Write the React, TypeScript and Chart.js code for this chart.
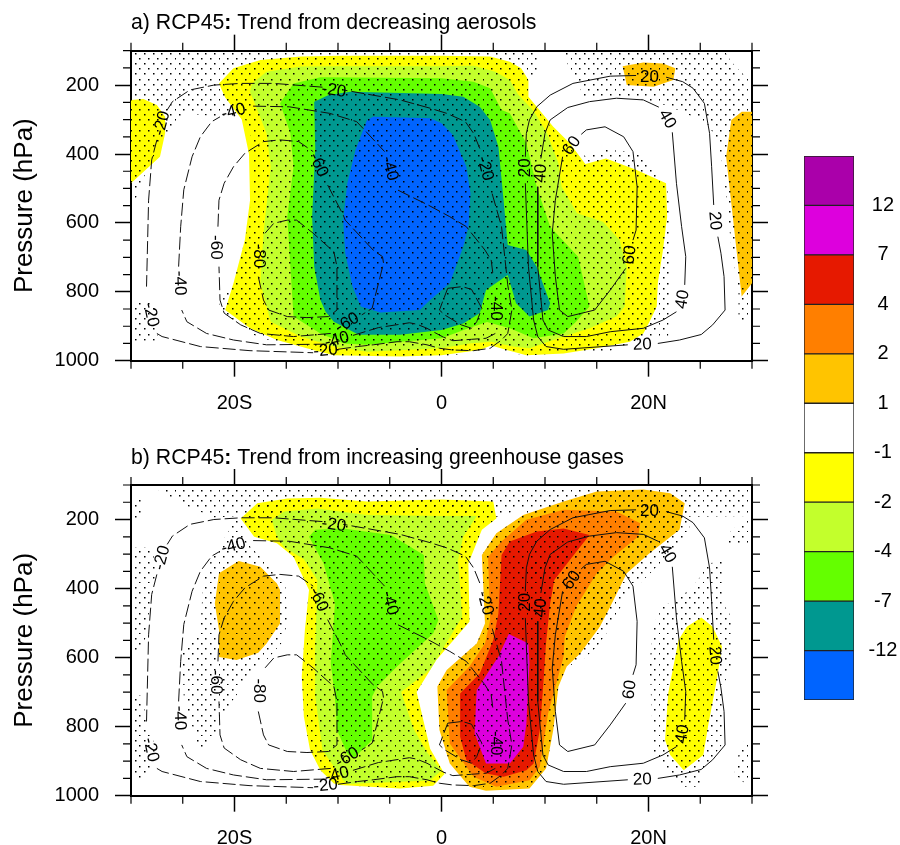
import React, { useEffect, useRef } from "react";
import { Chart, registerables } from "chart.js";

Chart.register(...registerables);

type Pt = [number, number];

const FONT = "'Liberation Sans', Arial, sans-serif";

// Axis values
const majorLats = [-20, 0, 20];
const latLabels: Record<string, string> = { "-20": "20S", "0": "0", "20": "20N" };
const minorLats = [-30, -25, -15, -10, -5, 5, 10, 15, 25, 30];
const majorPressures = [200, 400, 600, 800, 1000];
const minorPressures = [100, 150, 250, 300, 350, 450, 500, 550, 650, 700, 750, 850, 900, 950];

// Colour bar
const levelColors = ["#0064FF", "#009890", "#64FF00", "#C3FF2C", "#FFFF00", "#FFFFFF", "#FFC400", "#FF7F00", "#E61900", "#DD00DD", "#AA00AA"];
const levelLabels = ["-12", "-7", "-4", "-2", "-1", "1", "2", "4", "7", "12"];

// Panel a filled trend regions
const aYellow: Pt[] = [[-21.5,195],[-20.1,151],[-17.5,127],[-13.6,117],[-9.8,115],[0,115],[4.7,117],[6.6,132],[7.7,151],[8.4,185],[8.4,234],[9.2,263],[10.8,321],[12.4,369],[13.9,429],[15.9,413],[18.8,446],[21.7,485],[21.8,582],[21.4,679],[20.9,775],[20.8,843],[20.1,887],[19.5,921],[18.2,945],[15,964],[11.8,979],[8.2,984],[6.3,969],[4.8,956],[3.7,969],[0,984],[-4,988],[-10.4,984],[-12.4,969],[-15.9,940],[-18.5,906],[-20.9,853],[-20.1,775],[-19,650],[-18.5,534],[-18.6,400],[-19.3,300],[-20.9,236]];
const aLime: Pt[] = [[-18.5,219],[-18.3,195],[-16.9,161],[-13.6,146],[-9.8,145],[0,145],[3.1,144],[5.2,161],[6.6,185],[7.4,227],[8.9,275],[10.2,340],[11.3,427],[11.6,495],[13.1,572],[15.6,597],[17.2,650],[17.9,727],[17.7,843],[16.9,872],[14.3,906],[11.8,930],[8.5,964],[6.9,959],[4.8,945],[2.7,950],[0,964],[-7.2,974],[-10.4,959],[-13.6,930],[-16.5,887],[-17.5,775],[-17.2,630],[-16.5,437],[-16.9,340],[-17.8,272]];
const aGreen: Pt[] = [[-15.6,253],[-14.3,195],[-11.7,177],[0,180],[3.1,190],[4.7,209],[5.8,272],[6.6,282],[8.2,369],[9.2,495],[10.5,611],[13.2,698],[14.3,843],[13,887],[11.8,921],[8.9,935],[6.6,906],[4.4,888],[2.4,908],[0,935],[-7.2,954],[-9.4,950],[-11.7,921],[-14.3,872],[-14.6,727],[-14.9,582],[-14.3,437],[-14.6,340]];
const aTeal: Pt[] = [[-12.3,248],[-10.9,229],[-8.8,219],[0,226],[2.1,234],[3.7,263],[4.7,301],[5.5,379],[6,534],[6.4,664],[8.2,679],[9.2,727],[10.5,833],[10.3,853],[8.5,872],[7.2,833],[6.4,751],[4.3,795],[3.7,862],[2.1,892],[0,911],[-4,925],[-8,925],[-10.4,887],[-11.2,858],[-11.7,824],[-12.3,727],[-12.5,582],[-12.2,388]];
const aBlue: Pt[] = [[-7.2,301],[-6.6,292],[-1.1,296],[0,311],[1.1,345],[2.4,437],[2.8,514],[2.6,611],[2.1,669],[0.8,775],[-1.1,824],[-2.1,853],[-5.9,860],[-7.8,843],[-8.6,785],[-9.3,688],[-9.5,592],[-9.1,485],[-8.3,388]];
const aLeftYellow: Pt[] = [[-30,243],[-28.8,240],[-27.5,258],[-26.7,292],[-26.7,340],[-27.2,408],[-30,485]];
const aTopGold: Pt[] = [[17.5,145],[19.5,134],[21.4,137],[22.6,151],[22.4,185],[20.5,205],[17.9,200]];
const aRightGold: Pt[] = [[28,301],[29,277],[30,277],[30,775],[29,814],[27.5,408]];

// Panel a significance regions
const aStipMain: Pt[] = [[-30,100],[9.2,100],[9.3,180],[8.5,185],[8.5,243],[9.5,282],[11.1,340],[12.4,379],[14,408],[15.9,388],[18.2,393],[19.5,408],[21.4,466],[22.1,534],[22.1,727],[21.9,930],[19.8,930],[18.2,950],[16.3,971],[11.8,977],[8.2,986],[6.3,974],[4.8,959],[3.7,974],[0,988],[-10.4,986],[-12.4,969],[-15.9,945],[-17.8,932],[-21.7,848],[-21.2,824],[-20.1,775],[-19,650],[-18.3,534],[-18.3,359],[-19.1,287],[-21.7,292],[-24.6,282],[-26.2,330],[-27.5,388],[-28.6,456],[-29.7,543],[-30,543]];
const aStipLow: Pt[] = [[-29.9,824],[-27.5,824],[-27.5,921],[-27.2,942],[-29.9,942]];
const aStipRight: Pt[] = [[11.6,103],[27.4,103],[28,132],[30,195],[30,882],[28.7,887],[28.7,805],[28,669],[27.2,437],[26.6,359],[25.8,316],[23.3,277],[21.1,253],[18.8,238],[13.8,234],[13,190],[11.8,117]];

// Panel b filled trend regions
const bYellow: Pt[] = [[-19.4,197],[-17.8,153],[-14.9,139],[-11.7,137],[-7.2,148],[0,142],[5,148],[5.3,197],[3.9,230],[2.6,327],[2.7,496],[-0.5,607],[-2.4,700],[-1.1,864],[0.3,937],[-0.8,971],[-4,979],[-9.8,969],[-10.4,965],[-11.7,926],[-12.7,868],[-13.3,771],[-13.5,655],[-13.2,520],[-12.8,404],[-14.3,308],[-15.9,269],[-18.1,250]];
const bLime: Pt[] = [[-16.4,201],[-15.2,177],[-12,168],[-7.2,187],[0,190],[3.4,190],[2.1,250],[1.6,317],[2,482],[-1.1,635],[-3.9,700],[-2.7,806],[-1.4,874],[0,927],[-1.1,956],[-9,966],[-9.5,955],[-11.5,868],[-12.2,713],[-12.2,569],[-12,375],[-13.3,315],[-15.2,280],[-15.9,250]];
const bGreen: Pt[] = [[-12.8,250],[-12.2,230],[-9.5,226],[-4.9,245],[-1.7,303],[-1.6,385],[-0.3,491],[-0.8,530],[-4.3,626],[-6.2,684],[-6.7,713],[-6.7,839],[-8.5,892],[-9.1,878],[-10.1,810],[-10.3,713],[-10.7,617],[-10.3,443],[-11.4,327]];
const bLeftGold: Pt[] = [[-19.6,320],[-17.5,337],[-15.9,385],[-15.6,404],[-15.6,501],[-16.9,559],[-17.7,586],[-19.8,607],[-21.5,598],[-21.5,520],[-21.9,443],[-21.5,356]];
const bGold: Pt[] = [[3.9,303],[5.3,240],[7.9,187],[11.8,148],[15,119],[19.5,113],[22.1,124],[23.5,153],[23,230],[20.1,298],[17.9,356],[16.3,453],[15.3,511],[13.4,588],[12.1,626],[11.3,684],[10.8,810],[10.1,921],[8.5,979],[4.3,986],[2.7,974],[0.8,907],[-0.2,810],[-0.4,684],[0.5,636],[3.4,559],[4.2,501]];
const bOrange: Pt[] = [[4.5,308],[5.8,264],[8.2,201],[11.8,172],[16.9,177],[19.2,211],[19,250],[16.6,308],[15,356],[13,453],[11.9,540],[11.8,597],[10.3,762],[9.5,916],[8.5,955],[5.3,974],[3.1,945],[0.8,849],[0.5,694],[2.7,626],[4.2,559],[4.7,491]];
const bRed: Pt[] = [[5.8,303],[6.6,264],[9.2,235],[11.8,226],[14.3,245],[12.4,317],[10.9,375],[10.5,443],[10.1,559],[9.8,694],[9.5,810],[8.9,907],[8.2,926],[6,945],[4.3,936],[2.4,897],[1.8,829],[1.8,704],[3.7,646],[5,549],[5.5,472]];
const bMagenta: Pt[] = [[6.5,532],[8.4,559],[8.5,617],[8.2,791],[7.9,858],[6.6,907],[4.3,907],[3.2,820],[3.4,694],[5.5,597]];
const bRightYellow: Pt[] = [[25.1,484],[26.2,511],[27.1,568],[26.6,665],[25.8,791],[25.3,882],[23.4,926],[22.1,882],[21.6,839],[21.9,704],[22.9,549],[23.7,511]];

// Panel b significance regions
const bStipTop: Pt[] = [[-27.8,107],[30,107],[30,190],[23.7,192],[8.5,190],[7.4,172],[5.5,192],[-19.4,190],[-22,194],[-24.6,161]];
const bStipLeft: Pt[] = [[-19.4,201],[-18.8,269],[-16.9,327],[-15.1,385],[-14.9,482],[-15.2,549],[-16.9,607],[-18.5,655],[-20.4,733],[-21.7,810],[-23,876],[-23.6,849],[-24.9,713],[-25.1,578],[-23.3,520],[-23,366],[-22,303],[-20.7,240],[-20.1,203]];
const bStipFringe: Pt[] = [[23.5,153],[24,230],[22.1,298],[19.5,375],[17.6,433],[16.6,501],[15,569],[13.4,612],[12.1,626],[8.5,327]];
const bStipCorner: Pt[] = [[27.4,274],[28,230],[29.8,197],[30,192],[30,274]];
const bStipMid: Pt[] = [[25.8,327],[27.1,322],[27.2,443],[28,482],[28,636],[27.1,684],[27.4,839],[25.3,926],[25,974],[23,974],[22.1,945],[20.5,887],[20.1,617],[20.5,501],[21.4,453],[24,404],[25,366]];
const bStipEdge: Pt[] = [[29.3,839],[30,839],[30,965],[29.3,965],[28.3,936],[28.8,868]];
const bStipWest1: Pt[] = [[-29.7,139],[-28.9,139],[-28.9,201],[-29.7,201]];
const bStipWest2: Pt[] = [[-29.9,281],[-28.1,281],[-27.5,337],[-28,414],[-28.5,520],[-28.8,578],[-29.9,578]];
const bStipWest3: Pt[] = [[-29.9,709],[-28.9,709],[-28.5,791],[-27.5,868],[-28.5,950],[-29.9,950]];

// Contours shared by both panels; each array is one run between labels
const neg20: Pt[][] = [
  [[-11.5,206],[-16.2,195],[-19.4,195],[-22,200],[-24.3,214],[-26,248],[-26.5,272]],
  [[-27.5,359],[-28,417],[-28.3,534],[-28.5,785]],
  [[-27.5,921],[-27,930],[-23.3,959],[-18.5,971],[-12.4,977]],
  [[-10,967],[-8.1,959],[-6.6,954],[-4.3,945],[-3.1,945],[-1.4,954],[-0.2,964],[1.1,969],[3.1,971],[4.7,964],[5.8,940],[6.4,921],[6.8,853],[6.4,780],[5.8,611],[4.8,505]],
  [[3.7,384],[3.1,340],[2.3,306],[0.5,282],[-1.1,267],[-4,243],[-9.5,214]],
];
const neg40: Pt[][] = [
  [[-18.2,261],[-14.7,263],[-10.8,282],[-8.2,306],[-7.6,325],[-5.5,393]],
  [[-4.2,505],[-1.3,548],[0.8,582],[2.4,611],[4.2,679],[4.8,708],[5,756]],
  [[5.2,921],[4.3,935],[2.9,938],[1.1,942],[0.2,932],[-0.8,916],[-1.4,906],[-2.4,894],[-3.1,890],[-6.1,904],[-8.7,928]],
  [[-11.1,952],[-16.9,954],[-20.1,940],[-22.7,921],[-24.6,887],[-25.1,853]],
  [[-25.4,727],[-25.2,611],[-24.9,504],[-24.1,408],[-23.3,350],[-22.2,306],[-21.4,292]],
];
const neg60: Pt[][] = [
  [[-11,490],[-9.5,577],[-9.3,592],[-6.6,679],[-5.7,698],[-5.6,717],[-6.7,848],[-7.7,867]],
  [[-10.7,921],[-14.3,930],[-17.5,921],[-19.4,896],[-21,862],[-21.4,824],[-21.5,727]],
  [[-21.6,611],[-21.5,534],[-21,485],[-20.1,437],[-19,398],[-17.2,364],[-15.6,359],[-13.8,364],[-12.4,393]],
];
const neg80: Pt[][] = [
  [[-17.7,756],[-17.2,824],[-16.7,853],[-14.9,872],[-13,875],[-10.9,872],[-10.1,853],[-10.1,727],[-10.4,684],[-12.4,630],[-14,592],[-14.9,592],[-16.2,601],[-17.2,635]],
];
const negLoop: Pt[][] = [
  [[0.6,790],[2,785],[2.9,793],[3.9,848],[3.4,887],[2.9,906],[1.9,896],[0.3,867],[-0.2,853],[0.6,790]],
];
const pos20: Pt[][] = [
  [[18.8,172],[16.3,174],[12.7,195],[10.5,229],[9.2,263],[8.5,301],[8.2,340],[8.1,408]],
  [[8.1,485],[8.4,727],[8.9,882],[9.3,930],[10.1,959],[11.8,967],[18,954]],
  [[20.9,950],[23,940],[25.1,924],[26.2,896],[27.4,853],[27.3,756],[27,688],[26.7,640]],
  [[26.3,548],[26.1,437],[25.9,340],[25.4,253],[24.3,209],[23.3,190],[21.7,177]],
];
const pos40: Pt[][] = [
  [[21,264],[19.5,243],[16.9,238],[14.3,248],[12.2,265],[10.5,301],[10,340],[9.6,413]],
  [[9.3,495],[9.3,727],[9.8,882],[10.3,911],[11.8,930],[14,930],[16.3,916],[19.5,906],[21.4,882],[22.7,858]],
  [[23.5,780],[23.6,698],[23.2,611],[22.7,485],[22.3,337]],
];
const pos60: Pt[][] = [
  [[13.5,343],[14,330],[15.8,321],[17.6,350],[18.5,393],[18.9,495],[18.8,621],[18.5,650]],
  [[17.8,732],[16.3,795],[14.8,853],[12.2,872],[11.4,853],[11,756],[10.7,630],[11,534],[11.7,408]],
];

// Contour labels: text, latitude, pressure, rotation
const contourLabels: [string, number, number, number][] = [
  ["-20", -10.4, 216, 8], ["-20", -27, 311, -75], ["-20", -28.1, 867, 78], ["-20", -11.2, 971, -5], ["-20", 4.2, 442, 75],
  ["-40", -20.1, 277, -15], ["-40", -5, 442, 75], ["-40", 5.2, 848, 90], ["-40", -10.1, 940, -15], ["-40", -25.3, 775, 88],
  ["-60", -11.9, 432, 65], ["-60", -9.1, 890, -30], ["-60", -21.8, 671, 90],
  ["-80", -17.7, 696, 90],
  ["20", 20.1, 177, 0], ["20", 8.1, 440, -90], ["20", 19.4, 954, -2], ["20", 26.4, 594, 85],
  ["40", 21.8, 299, 60], ["40", 9.6, 456, -85], ["40", 23.3, 822, -80],
  ["60", 12.6, 376, -55], ["60", 18.2, 693, -82],
];

const negativeContours = [neg20, neg40, neg60, neg80, negLoop].flat();
const positiveContours = [pos20, pos40, pos60].flat();

const panelA = {
  letter: "a) RCP45",
  rest: " Trend from decreasing aerosols",
  fills: [
    [aYellow, "#FFFF00"], [aLime, "#C3FF2C"], [aGreen, "#64FF00"], [aTeal, "#009890"], [aBlue, "#0064FF"],
    [aLeftYellow, "#FFFF00"], [aTopGold, "#FFC400"], [aRightGold, "#FFC400"],
  ] as [Pt[], string][],
  stipples: [aStipMain, aStipLow, aStipRight],
};
const panelB = {
  letter: "b) RCP45",
  rest: " Trend from increasing greenhouse gases",
  fills: [
    [bYellow, "#FFFF00"], [bLime, "#C3FF2C"], [bGreen, "#64FF00"], [bLeftGold, "#FFC400"],
    [bGold, "#FFC400"], [bOrange, "#FF7F00"], [bRed, "#E61900"], [bMagenta, "#DD00DD"], [bRightYellow, "#FFFF00"],
  ] as [Pt[], string][],
  stipples: [bStipTop, bStipLeft, bYellow, bGold, bStipFringe, bStipCorner, bStipMid, bStipEdge, bStipWest1, bStipWest2, bStipWest3],
};

function makeStipple(rowPhase: number): CanvasPattern | string {
  const tile = document.createElement("canvas");
  tile.width = 44;
  tile.height = 51;
  const c = tile.getContext("2d");
  if (!c) return "transparent";
  c.fillStyle = "#000";
  for (let row = 0; row < 10; row++) {
    const y = row * 5.1 + rowPhase;
    const off = row % 2 === 0 ? 3 : 7.4;
    for (let col = 0; col < 5; col++) {
      c.fillRect(Math.round(off + col * 8.8), Math.round(y), 1.5, 1.5);
    }
  }
  return c.createPattern(tile, "repeat") as CanvasPattern;
}

const toXY = (pts: Pt[]) => pts.map(([x, y]) => ({ x, y }));

function buildPanel(canvas: HTMLCanvasElement, panel: typeof panelA, top: number, bottomSpace: number, rowPhase: number) {
  const stipple = makeStipple(rowPhase);
  const polygons = panel.fills.map(([pts, color]) => ({
    type: "line" as const, data: toXY(pts), backgroundColor: color, borderColor: "transparent", borderWidth: 0, fill: "shape", pointRadius: 0, tension: 0,
  }));
  const stipples = panel.stipples.map((pts) => ({
    type: "line" as const, data: toXY(pts), backgroundColor: stipple, borderColor: "transparent", borderWidth: 0, fill: "shape", pointRadius: 0, tension: 0,
  }));
  const negative = negativeContours.map((pts) => ({
    type: "line" as const, data: toXY(pts), borderColor: "#111", borderWidth: 1, borderDash: [13, 4], fill: false, pointRadius: 0, tension: 0,
  }));
  const positive = positiveContours.map((pts) => ({
    type: "line" as const, data: toXY(pts), borderColor: "#111", borderWidth: 1, fill: false, pointRadius: 0, tension: 0,
  }));
  const all: any[] = [...polygons, ...stipples, ...negative, ...positive];
  all.forEach((d, i) => { d.order = all.length - i; });

  const decor = {
    id: "decor",
    afterDraw(chart: any) {
      const { ctx, chartArea, scales } = chart;
      const x = scales.x;
      const y = scales.y;
      ctx.save();
      ctx.strokeStyle = "#000";
      ctx.lineWidth = 1.2;
      ctx.beginPath();
      minorLats.forEach((v) => {
        const px = x.getPixelForValue(v);
        ctx.moveTo(px, chartArea.top);
        ctx.lineTo(px, chartArea.top - 8);
        ctx.moveTo(px, chartArea.bottom);
        ctx.lineTo(px, chartArea.bottom + 8);
      });
      minorPressures.forEach((v) => {
        const py = y.getPixelForValue(v);
        ctx.moveTo(chartArea.left, py);
        ctx.lineTo(chartArea.left - 8, py);
        ctx.moveTo(chartArea.right, py);
        ctx.lineTo(chartArea.right + 8, py);
      });
      ctx.stroke();

      ctx.fillStyle = "#000";
      ctx.textAlign = "center";
      ctx.textBaseline = "middle";
      ctx.font = `17px ${FONT}`;
      contourLabels.forEach(([text, lat, p, rot]) => {
        ctx.save();
        ctx.translate(x.getPixelForValue(lat), y.getPixelForValue(p));
        ctx.rotate((rot * Math.PI) / 180);
        ctx.fillText(text, 0, 0);
        ctx.restore();
      });

      const baseline = chartArea.top - 21.3;
      let tx = chartArea.left;
      ctx.textAlign = "left";
      ctx.textBaseline = "alphabetic";
      ctx.font = `21.25px ${FONT}`;
      ctx.fillText(panel.letter, tx, baseline);
      tx += ctx.measureText(panel.letter).width;
      ctx.font = `bold 21.25px ${FONT}`;
      ctx.fillText(":", tx, baseline);
      tx += ctx.measureText(":").width;
      ctx.font = `21.25px ${FONT}`;
      ctx.fillText(panel.rest, tx, baseline);
      ctx.restore();
    },
  };

  const xAxis = (position: string, showLabels: boolean) => ({
    type: "linear", position, min: -30, max: 30,
    afterBuildTicks: (s: any) => { s.ticks = majorLats.map((value) => ({ value })); },
    afterFit: (s: any) => { s.height = position === "top" ? top : bottomSpace; },
    ticks: {
      display: showLabels, autoSkip: false, maxRotation: 0, minRotation: 0, padding: 15, color: "#000",
      font: { family: FONT, size: 20 },
      callback: (v: number) => latLabels[String(v)] ?? "",
    },
    grid: { drawOnChartArea: false, drawTicks: true, tickLength: 16, tickWidth: 1.5, tickColor: "#000" },
    border: { display: true, color: "#000", width: 2 },
  });
  const yAxis = (position: string, showLabels: boolean) => ({
    type: "linear", position, min: 100, max: 1000, reverse: true,
    afterBuildTicks: (s: any) => { s.ticks = majorPressures.map((value) => ({ value })); },
    afterFit: (s: any) => { s.width = position === "left" ? 131 : 38; },
    title: showLabels
      ? { display: true, text: "Pressure (hPa)", color: "#000", font: { family: FONT, size: 26 }, padding: { top: 9, bottom: 0 } }
      : { display: false },
    ticks: {
      display: showLabels, autoSkip: false, padding: 16, color: "#000", font: { family: FONT, size: 20 },
      callback: (v: number) => String(v),
    },
    grid: { drawOnChartArea: false, drawTicks: true, tickLength: 16, tickWidth: 1.5, tickColor: "#000" },
    border: { display: true, color: "#000", width: 2 },
  });

  return new Chart(canvas, {
    type: "line",
    data: { datasets: all },
    plugins: [decor],
    options: {
      responsive: false,
      animation: false,
      parsing: { xAxisKey: "x", yAxisKey: "y" },
      layout: { padding: 0 },
      plugins: { legend: { display: false }, tooltip: { enabled: false }, title: { display: false } },
      scales: {
        x: xAxis("bottom", true),
        xTop: xAxis("top", false),
        y: yAxis("left", true),
        yRight: yAxis("right", false),
      },
    } as any,
  });
}

function buildColorbar(canvas: HTMLCanvasElement) {
  return new Chart(canvas, {
    type: "bar",
    data: {
      labels: ["level"],
      datasets: levelColors.map((color) => ({
        data: [1], backgroundColor: color, borderColor: "#222", borderWidth: 1, borderSkipped: false,
        barPercentage: 1, categoryPercentage: 1,
      })),
    },
    options: {
      responsive: false,
      animation: false,
      layout: { padding: { left: 4, top: 6, bottom: 6, right: 0 } },
      plugins: { legend: { display: false }, tooltip: { enabled: false } },
      scales: {
        x: { stacked: true, display: false },
        y: {
          stacked: true, position: "right", min: 0, max: 11,
          afterBuildTicks: (s: any) => { s.ticks = levelLabels.map((_, i) => ({ value: i + 1 })); },
          afterFit: (s: any) => { s.width = 46; s.paddingTop = 0; s.paddingBottom = 0; },
          ticks: {
            autoSkip: false, padding: 14.5, crossAlign: "center", color: "#000",
            font: { family: FONT, size: 20 },
            callback: (v: number) => levelLabels[v - 1] ?? "",
          },
          grid: { drawOnChartArea: false, drawTicks: false },
          border: { display: false },
        },
      },
    } as any,
  });
}

export default function App() {
  const a = useRef<HTMLCanvasElement>(null);
  const b = useRef<HTMLCanvasElement>(null);
  const c = useRef<HTMLCanvasElement>(null);
  useEffect(() => {
    const charts = [
      buildPanel(a.current as HTMLCanvasElement, panelA, 50.67, 64.33, 2),
      buildPanel(b.current as HTMLCanvasElement, panelB, 55, 49.33, 4),
      buildColorbar(c.current as HTMLCanvasElement),
    ];
    return () => charts.forEach((ch) => ch.destroy());
  }, []);
  return (
    <div style={{ position: "absolute", left: 0, top: 0, width: 900, height: 845, background: "#fff", overflow: "hidden" }}>
      <canvas ref={a} width={790} height={425} style={{ position: "absolute", left: 0, top: 0 }} />
      <canvas ref={b} width={790} height={415} style={{ position: "absolute", left: 0, top: 430 }} />
      <canvas ref={c} width={100} height={556} style={{ position: "absolute", left: 800, top: 150 }} />
    </div>
  );
}
